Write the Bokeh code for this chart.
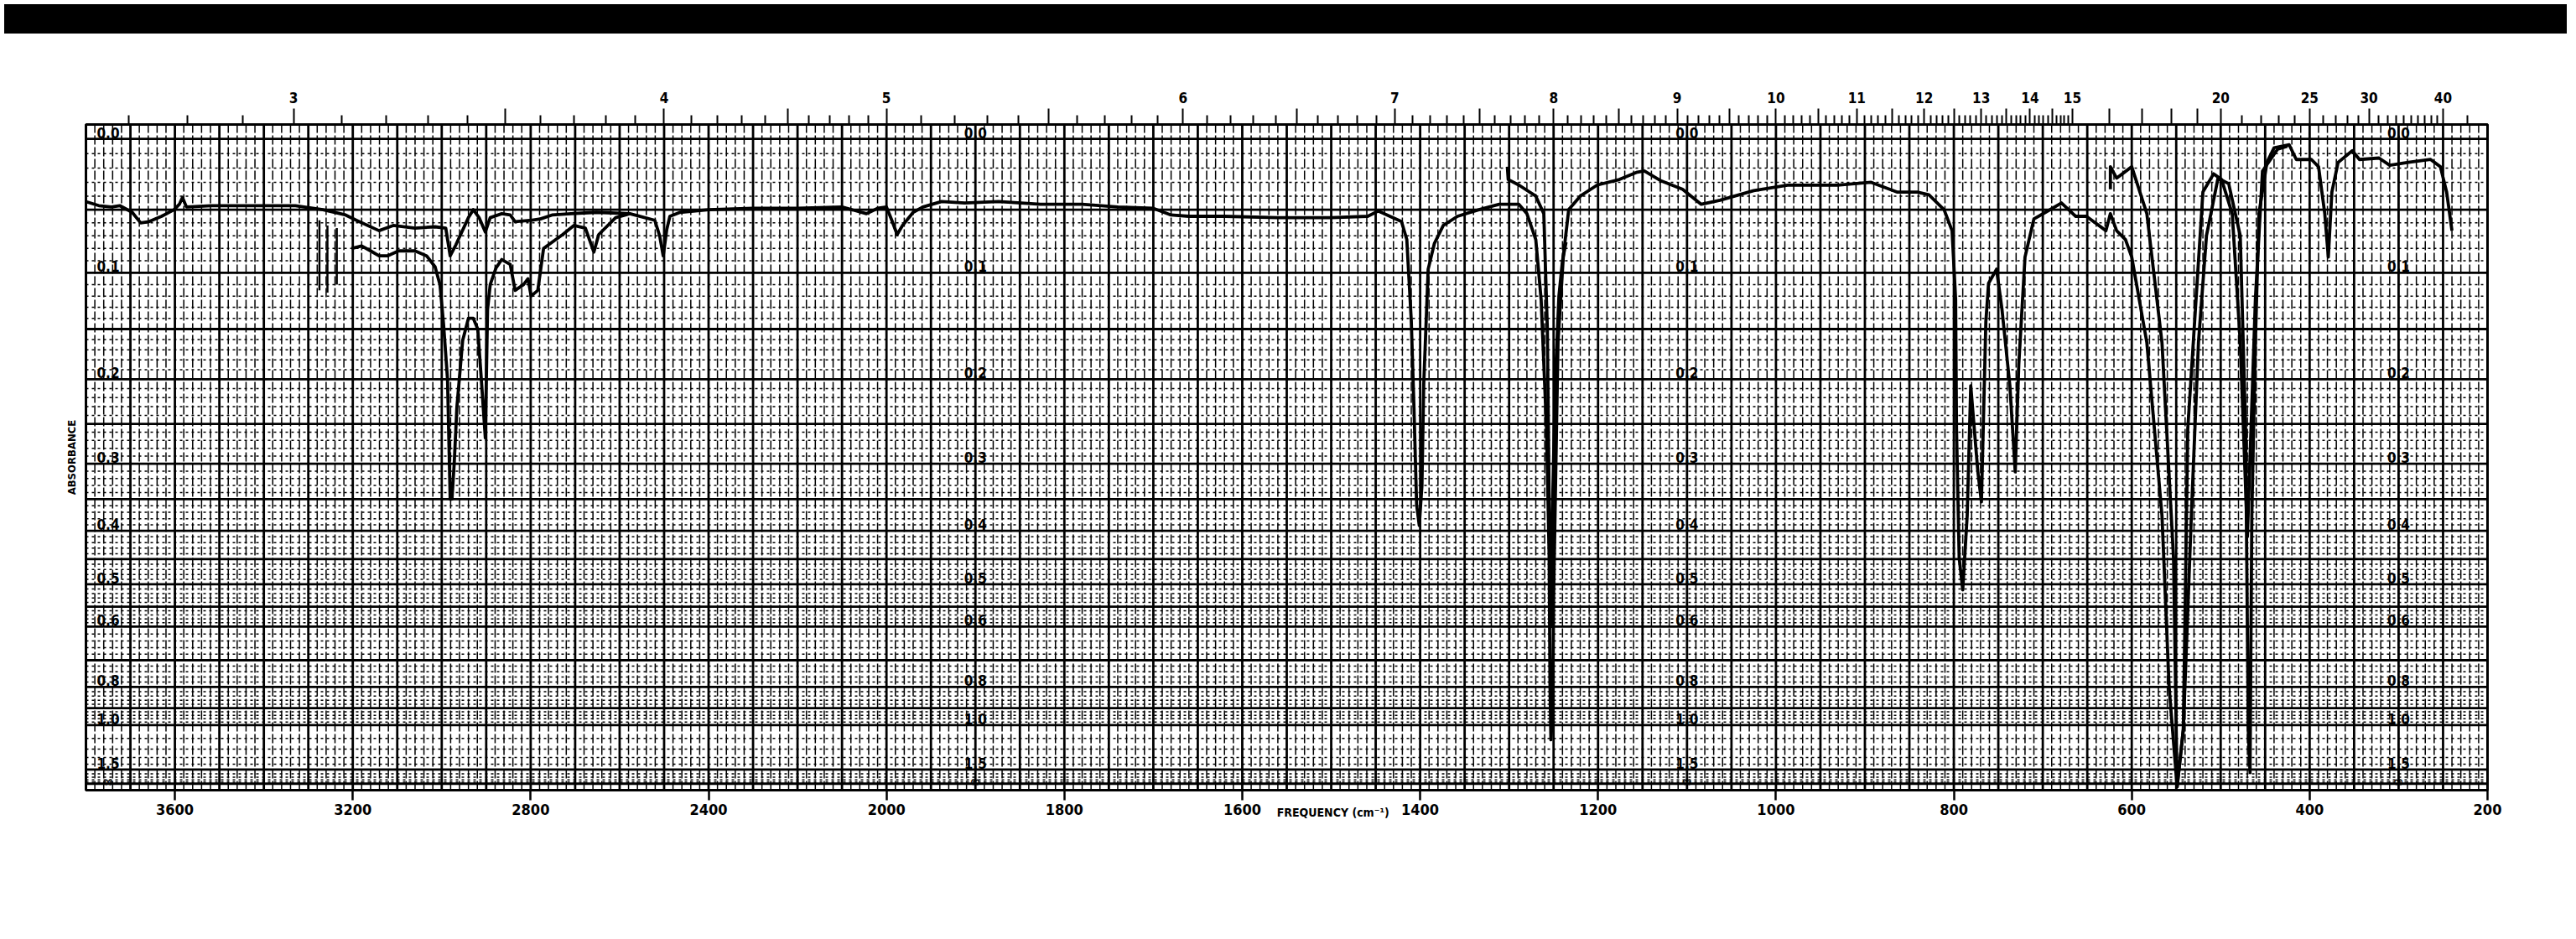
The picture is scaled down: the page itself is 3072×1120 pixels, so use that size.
import numpy as np
from bokeh.plotting import figure
from bokeh.models import Range1d, FixedTicker, LinearAxis, Div, ColumnDataSource
from bokeh.layouts import column
from bokeh.core.properties import value
from bokeh.embed import file_html
from bokeh.resources import INLINE

# ---------------- data (wavenumber cm^-1, absorbance) ----------------
main_wn = [3800, 3771, 3743, 3724, 3696, 3677, 3658, 3630, 3602, 3590, 3583, 3574, 3518, 3442, 3329,
           3267, 3216, 3192, 3141, 3109, 3060, 3015, 2991, 2981, 2968, 2940, 2929, 2916, 2902, 2891,
           2865, 2846, 2835, 2797, 2778, 2752, 2709, 2652, 2577, 2521, 2510, 2502, 2494, 2487, 2464,
           2400, 2300, 2200, 2100, 2045, 2020, 2000, 1994, 1988, 1982, 1970, 1959, 1938, 1912, 1874,
           1827, 1780, 1740, 1700, 1680, 1660, 1620, 1560, 1500, 1459, 1447, 1434, 1421, 1415, 1410,
           1407, 1404, 1401, 1398, 1396, 1391, 1384, 1374, 1358, 1334, 1311, 1289, 1280, 1270, 1264,
           1258, 1255, 1254, 1253, 1251, 1250, 1245, 1239, 1233, 1220, 1201, 1176, 1157, 1148, 1129,
           1105, 1084, 1063, 1025, 987, 931, 893, 864, 841, 828, 811, 802, 798, 797, 794,
           790, 785, 781, 773, 769, 764, 761, 752, 746, 737, 731, 727, 720, 710, 697,
           679, 663, 651, 629, 624, 617, 607, 600, 583, 566, 558, 549, 542, 533, 525,
           516, 503, 491, 478, 472, 469, 467, 465, 461, 457, 448, 440, 423, 415, 398,
           390, 383, 379, 375, 368, 352, 344, 322, 310, 289, 264, 253, 246, 240]
main_abs = [0.044, 0.047, 0.048, 0.047, 0.052, 0.060, 0.059, 0.055, 0.050, 0.046, 0.041, 0.048, 0.047, 0.047, 0.047,
            0.050, 0.054, 0.058, 0.066, 0.062, 0.064, 0.063, 0.064, 0.086, 0.077, 0.056, 0.050, 0.056, 0.067, 0.056,
            0.053, 0.054, 0.059, 0.058, 0.057, 0.054, 0.053, 0.052, 0.053, 0.058, 0.070, 0.086, 0.065, 0.055, 0.052,
            0.050, 0.049, 0.049, 0.048, 0.053, 0.049, 0.048, 0.058, 0.069, 0.062, 0.052, 0.048, 0.044, 0.045, 0.044,
            0.046, 0.046, 0.048, 0.049, 0.054, 0.055, 0.055, 0.056, 0.056, 0.055, 0.051, 0.055, 0.059, 0.073, 0.142,
            0.230, 0.358, 0.391, 0.330, 0.206, 0.097, 0.076, 0.062, 0.055, 0.050, 0.046, 0.046, 0.053, 0.073, 0.123,
            0.254, 0.443, 0.800, 1.112, 0.900, 0.531, 0.162, 0.086, 0.050, 0.040, 0.032, 0.028, 0.023, 0.022, 0.029,
            0.035, 0.046, 0.043, 0.036, 0.032, 0.032, 0.030, 0.037, 0.037, 0.039, 0.050, 0.066, 0.123, 0.256, 0.448,
            0.512, 0.375, 0.207, 0.311, 0.354, 0.143, 0.109, 0.097, 0.131, 0.207, 0.311, 0.185, 0.087, 0.057, 0.052,
            0.045, 0.055, 0.055, 0.066, 0.053, 0.066, 0.073, 0.087, 0.163, 0.375, 0.800, 2.300, 1.030, 0.375, 0.163,
            0.070, 0.027, 0.031, 0.070, 0.256, 1.030, 1.570, 0.375, 0.163, 0.053, 0.016, 0.006, 0.004, 0.014, 0.014,
            0.019, 0.053, 0.087, 0.037, 0.016, 0.008, 0.014, 0.013, 0.018, 0.016, 0.014, 0.019, 0.037, 0.066]

b1_wn = [3203, 3180, 3160, 3141, 3122, 3097, 3060, 3034, 3015, 3004, 2996, 2987, 2981, 2977, 2972,
         2966, 2953, 2940, 2929, 2919, 2911, 2902, 2897, 2891, 2878, 2865, 2846, 2835, 2816, 2806,
         2799, 2784, 2771, 2728, 2703, 2677, 2658, 2647, 2609, 2577]
b1_abs = [0.080, 0.078, 0.082, 0.086, 0.086, 0.082, 0.082, 0.086, 0.095, 0.110, 0.145, 0.200, 0.350, 0.350, 0.300,
          0.231, 0.161, 0.140, 0.140, 0.150, 0.200, 0.267, 0.132, 0.110, 0.096, 0.089, 0.093, 0.115, 0.110, 0.105,
          0.120, 0.115, 0.080, 0.069, 0.062, 0.064, 0.083, 0.069, 0.056, 0.053]

b2_wn = [1302, 1301, 1289, 1270, 1261, 1257, 1255, 1253, 1251, 1248, 1244, 1240, 1236]
b2_abs = [0.019, 0.028, 0.032, 0.040, 0.053, 0.150, 0.350, 0.600, 0.350, 0.200, 0.120, 0.090, 0.075]

b3_wn = [624, 624, 617, 600, 583, 566, 553, 549, 542, 537, 520, 508, 499, 487, 478, 470, 461, 453, 436, 425]
b3_abs = [0.035, 0.019, 0.027, 0.019, 0.053, 0.163, 0.448, 2.300, 1.030, 0.256, 0.037, 0.024, 0.028, 0.053,
          0.163, 0.410, 0.123, 0.022, 0.007, 0.005]

mark_wn = [3275, 3257, 3236]
mark_abs_top = [0.058, 0.062, 0.064]
mark_abs_bottom = [0.115, 0.117, 0.110]

freq_ticks = [3600, 3200, 2800, 2400, 2000, 1800, 1600, 1400, 1200, 1000, 800, 600, 400, 200]
micron_labels = [3, 4, 5, 6, 7, 8, 9, 10, 11, 12, 13, 14, 15, 20, 25, 30, 40]
abs_labels = ["0.0", "0.1", "0.2", "0.3", "0.4", "0.5", "0.6", "0.8", "1.0", "1.5", "∞"]
abs_label_values = [0.0, 0.1, 0.2, 0.3, 0.4, 0.5, 0.6, 0.8, 1.0, 1.5, None]
abs_label_columns = [3750, 1900, 1100, 300]


# ---------------- coordinate helpers (chart paper scale) ----------------
def u_of(wn):
    wn = np.asarray(wn, dtype=float)
    return np.where(wn > 2000, (2000.0 - wn) / 2.0, 2000.0 - wn)


def t_of(a):
    return 100.0 * 10 ** (-np.asarray(a, dtype=float))


T_TOP = 102.2
FONT_NAME = "DejaVu Sans Condensed"
FONT = value(FONT_NAME)

p = figure(width=3056, height=1060, x_range=Range1d(-900, 1800), y_range=Range1d(0, T_TOP),
           output_backend="svg", toolbar_location=None,
           min_border_left=102, min_border_right=90, min_border_top=103, min_border_bottom=163)
p.grid.visible = False
p.outline_line_color = "black"
p.outline_line_width = 3
p.background_fill_color = "white"

# ---------------- chart paper grid ----------------
thin_v = [w for w in range(3780, 2000, -20) if w % 100] + [w for w in range(1990, 200, -10) if w % 50]
thick_v = list(range(3700, 2000, -100)) + list(range(2000, 200, -50))
thick_h_abs = [0.0, 0.05, 0.1, 0.15, 0.2, 0.25, 0.3, 0.35, 0.4, 0.45, 0.5, 0.55, 0.6, 0.7, 0.8, 0.9, 1.0, 1.5, 2.0]
thin_h_abs = ([round(0.01 * i, 2) for i in range(1, 60) if i % 5] +
              [round(0.6 + 0.02 * i, 2) for i in range(1, 20) if i % 5] +
              [round(1.0 + 0.1 * i, 2) for i in range(1, 10) if i != 5])

uv = u_of(thin_v)
p.multi_line([[x, x] for x in uv], [[0, T_TOP]] * len(uv), line_color="black", line_width=1.5,
             line_dash="11 3")
th = t_of(thin_h_abs)
p.multi_line([[-900, 1800]] * len(th), [[y, y] for y in th], line_color="black", line_width=1.5,
             line_dash="3 4")
uk = u_of(thick_v)
p.multi_line([[x, x] for x in uk], [[0, T_TOP]] * len(uk), line_color="black", line_width=2.8)
tk = t_of(thick_h_abs)
p.multi_line([[-900, 1800]] * len(tk), [[y, y] for y in tk], line_color="black", line_width=2.8)

# absorbance labels printed on the paper
lx, ly, lt = [], [], []
for col in abs_label_columns:
    for txt, a in zip(abs_labels, abs_label_values):
        lx.append(float(u_of(col)))
        ly.append(0.0 if a is None else float(t_of(a)))
        lt.append(txt)
p.text(x="x", y="y", text="t", source=ColumnDataSource(dict(x=lx, y=ly, t=lt)),
       text_font=FONT, text_font_style="bold", text_font_size="17px",
       text_align="center", text_baseline="bottom", y_offset=-1, text_color="black")

# ---------------- spectrum traces ----------------
for wn, ab in [(main_wn, main_abs), (b1_wn, b1_abs), (b2_wn, b2_abs), (b3_wn, b3_abs)]:
    p.line(u_of(wn), t_of(ab), line_color="black", line_width=3.8, line_join="round")
p.segment(x0=u_of(mark_wn), y0=t_of(mark_abs_top), x1=u_of(mark_wn), y1=t_of(mark_abs_bottom),
          line_color="black", line_width=2.5)

# ---------------- left axis: only the title ----------------
ya = p.yaxis[0]
ya.ticker = FixedTicker(ticks=[])
ya.axis_line_color = None
ya.major_tick_line_color = None
ya.minor_tick_line_color = None
ya.major_label_text_font_size = "0px"
ya.axis_label = "ABSORBANCE"
ya.axis_label_standoff = 10
ya.axis_label_text_font = FONT_NAME
ya.axis_label_text_font_style = "bold"
ya.axis_label_text_font_size = "13px"
ya.axis_label_text_color = "black"

# ---------------- bottom axis: frequency ----------------
xa = p.xaxis[0]
bt = [int(v) for v in u_of(freq_ticks)]
xa.ticker = FixedTicker(ticks=bt)
xa.major_label_overrides = {k: str(w) for k, w in zip(bt, freq_ticks)}
xa.axis_line_color = None
xa.major_tick_in = 0
xa.major_tick_out = 12
xa.major_tick_line_width = 2.5
xa.minor_tick_line_color = None
xa.major_label_standoff = 4
xa.major_label_text_font = FONT_NAME
xa.major_label_text_font_style = "bold"
xa.major_label_text_font_size = "18px"
xa.major_label_text_color = "black"

# axis title placed like the printed one (right of the 1600 label)
title_u = 502
fa = LinearAxis(ticker=FixedTicker(ticks=[title_u]))
fa.major_label_overrides = {title_u: "FREQUENCY (cm⁻¹)"}
fa.axis_line_color = None
fa.major_tick_line_color = None
fa.minor_tick_line_color = None
fa.major_tick_in = 0
fa.major_tick_out = 0
fa.major_label_standoff = -14
fa.major_label_text_font = FONT_NAME
fa.major_label_text_font_style = "bold"
fa.major_label_text_font_size = "14px"
fa.major_label_text_color = "black"
p.add_layout(fa, "below")

# ---------------- top axis: wavelength (microns) ----------------
long_unlabeled = [m + 0.5 for m in range(3, 15)] + [16, 17, 18, 19]
minor_m = ([round(2.7 + 0.1 * i, 1) for i in range(0, 123)] +
           [21, 22, 23, 24, 26, 27, 28, 29] + list(range(31, 40)) + [45])
major_m = micron_labels + long_unlabeled
minor_m = [m for m in minor_m if m not in major_m]
major_u = [float(u_of(10000.0 / m)) for m in major_m]
minor_u = [float(u_of(10000.0 / m)) for m in minor_m]
overrides = {}
for m, uu in zip(major_m, major_u):
    overrides[uu] = str(m) if m in micron_labels else ""
top = LinearAxis(ticker=FixedTicker(ticks=major_u, minor_ticks=minor_u))
top.major_label_overrides = overrides
top.axis_line_color = None
top.major_tick_in = 0
top.major_tick_out = 19
top.minor_tick_in = 0
top.minor_tick_out = 11
top.major_tick_line_width = 2
top.minor_tick_line_width = 2
top.major_label_standoff = 7
top.major_label_text_font = FONT_NAME
top.major_label_text_font_style = "bold"
top.major_label_text_font_size = "17px"
top.major_label_text_color = "black"
p.add_layout(top, "above")

band = Div(text="", width=3056, height=35, styles={"background-color": "black"})
layout = column(band, p, spacing=0)

open("out.html", "w").write(file_html(layout, INLINE))
